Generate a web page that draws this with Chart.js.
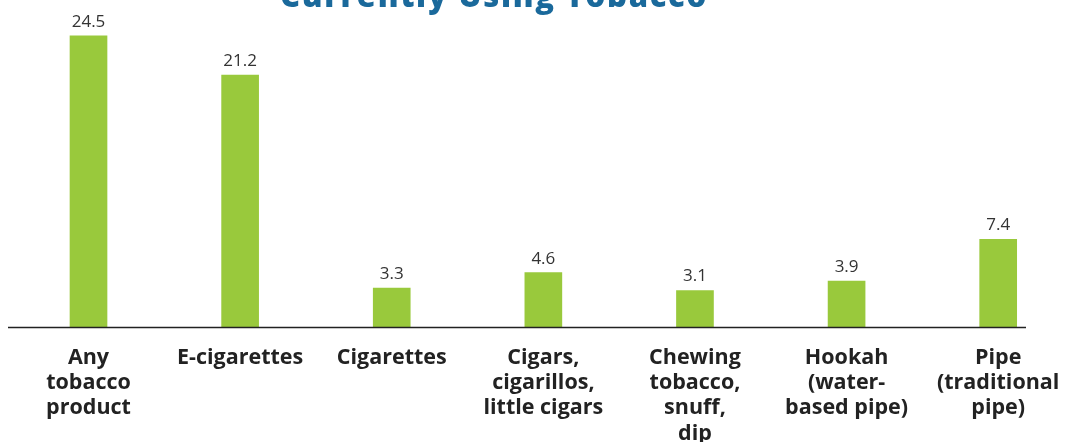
<!DOCTYPE html>
<html>
<head>
<meta charset="utf-8">
<script src="https://cdn.jsdelivr.net/npm/chart.js@4"></script>
<style>
  html, body { margin: 0; padding: 0; background: #fff; overflow: hidden; }
  #wrap { position: absolute; left: 0; top: -40px; width: 1080px; height: 500px; }
</style>
</head>
<body>
<div id="wrap"><canvas id="chart"></canvas></div>
<script>
const chartTitle = "Currently Using Tobacco";
const categories = [
  ["Any", "tobacco", "product"],
  ["E-cigarettes"],
  ["Cigarettes"],
  ["Cigars,", "cigarillos,", "little cigars"],
  ["Chewing", "tobacco,", "snuff,", "dip"],
  ["Hookah", "(water-", "based pipe)"],
  ["Pipe", "(traditional", "pipe)"]
];
const values = [24.5, 21.2, 3.3, 4.6, 3.1, 3.9, 7.4];

// title, baseline and value labels
const extras = {
  id: 'extras',
  afterDraw(chart) {
    const ctx = chart.ctx;
    const y0 = chart.scales.y.getPixelForValue(0);
    ctx.save();
    ctx.strokeStyle = '#222';
    ctx.lineWidth = 1.5;
    ctx.beginPath();
    ctx.moveTo(8, y0);
    ctx.lineTo(1026, y0);
    ctx.stroke();

    ctx.fillStyle = '#333';
    ctx.font = '17px "Open Sans"';
    ctx.textAlign = 'center';
    ctx.textBaseline = 'alphabetic';
    chart.getDatasetMeta(0).data.forEach((bar, i) => {
      ctx.fillText(values[i].toFixed(1), bar.x, bar.y - 9);
    });

    ctx.fillStyle = '#1a699b';
    ctx.font = '800 31px "Open Sans"';
    ctx.letterSpacing = '1.7px';
    ctx.fillText(chartTitle, 494, 47);
    ctx.restore();
  }
};

new Chart(document.getElementById('chart'), {
  type: 'bar',
  data: {
    labels: categories,
    datasets: [{
      data: values,
      backgroundColor: '#99c93c',
      barThickness: 37
    }]
  },
  options: {
    responsive: true,
    maintainAspectRatio: false,
    animation: false,
    layout: { padding: { left: 12.7, right: 6, top: 10.4, bottom: 4 } },
    plugins: { legend: { display: false }, tooltip: { enabled: false } },
    scales: {
      x: {
        grid: { display: false },
        border: { display: false },
        ticks: {
          color: '#222',
          padding: 10,
          maxRotation: 0,
          autoSkip: false,
          font: { family: 'Open Sans', weight: 'bold', size: 21.5, lineHeight: 1.17 }
        }
      },
      y: {
        display: false,
        min: 0,
        max: 30
      }
    }
  },
  plugins: [extras]
});
</script>
</body>
</html>
